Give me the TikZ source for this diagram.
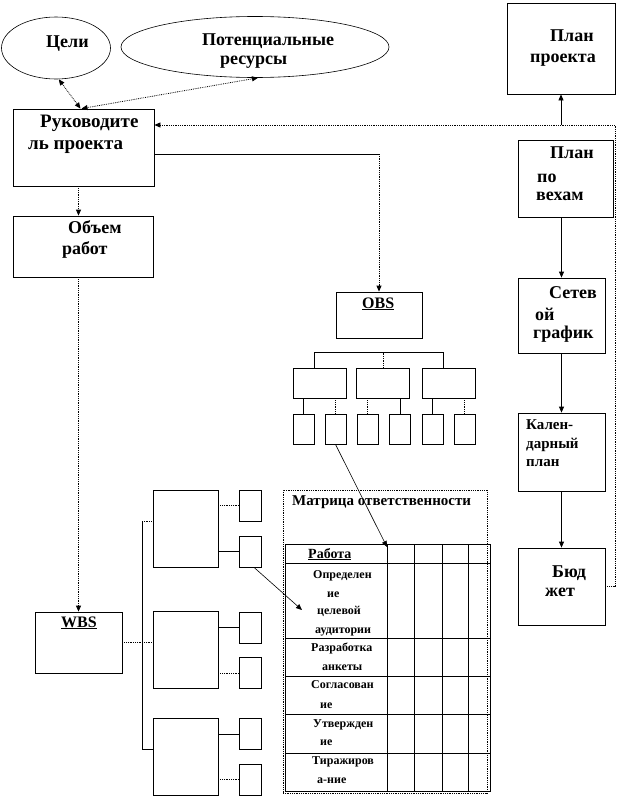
\documentclass[tikz,border=0pt]{standalone}
\usepackage{fontspec}
\setmainfont{Liberation Serif}
\usetikzlibrary{arrows.meta,positioning,shapes.geometric}

\begin{document}
\begin{tikzpicture}[
        x=1pt, y=-1pt,
        blk/.style={rectangle, draw, line width=0.8pt, inner sep=0pt},
        oval/.style={ellipse, draw, line width=0.6pt, inner sep=0pt},
        big/.style={font=\fontsize{18}{20}\selectfont\bfseries, anchor=base west, inner sep=0pt},
        bigs/.style={font=\fontsize{19}{21}\selectfont\bfseries, anchor=base west, inner sep=0pt},
        mid/.style={font=\fontsize{15}{17}\selectfont\bfseries, anchor=base west, inner sep=0pt},
        cell/.style={font=\fontsize{12}{14}\selectfont\bfseries, anchor=base west, inner sep=0pt},
        tip/.style={-{Triangle[length=6pt,width=5pt]}},
        dtip/.style={{Triangle[length=6pt,width=5pt]}-{Triangle[length=6pt,width=5pt]}},
        dot/.style={densely dotted, line width=0.8pt},
    ]
        \useasboundingbox (0,0) rectangle (618,798);

        % Goals and resources (top)
        \node[oval, minimum width=109pt, minimum height=62pt] (goals) at (56,48) {};
        \node[oval, minimum width=268pt, minimum height=61pt] (res) at (255,47) {};

        % Left column
        \node[blk, minimum width=141pt, minimum height=77pt] (ruk) at (83.5,147.5) {};
        \node[blk, minimum width=140pt, minimum height=61pt] (vol) at (83,246.5) {};
        \node[blk, minimum width=87pt, minimum height=61pt] (wbs) at (78.5,642.5) {};

        % Right column (plans)
        \node[blk, minimum width=108pt, minimum height=91pt] (plan) at (561,48.5) {};
        \node[blk, minimum width=95pt, minimum height=77pt] (veh) at (565.5,178.5) {};
        \node[blk, minimum width=87pt, minimum height=75pt] (net) at (561.5,315.5) {};
        \node[blk, minimum width=87pt, minimum height=78pt] (cal) at (561.5,452) {};
        \node[blk, minimum width=87pt, minimum height=77pt] (bud) at (561.5,586.5) {};

        % Box texts
        \foreach \x/\y/\t [count=\i] in {46/47/Цели, 202/45/Потенциальные, 220/64/ресурсы,
                68/233/Объем, 62/254/работ,
                550/41/План, 530/62/проекта, 550/158/План, 537/182/по, 536/200/вехам,
                549/298/Сетев, 535/320/ой, 533/338/график, 552/577/Бюд, 545/596/жет}
            \node[big] (txt\i) at (\x,\y) {\t};
        \node[bigs] (ruktxt1) at (40,127) {Руководите};
        \node[bigs] (ruktxt2) at (28,149) {ль проекта};
        \foreach \y/\t [count=\i] in {429/Кален-, 448/дарный, 466/план}
            \node[mid] (caltxt\i) at (526,\y) {\t};

        % OBS tree
        \node[blk, minimum width=86pt, minimum height=46pt] (obs) at (379,315) {};
        \node[font=\fontsize{16}{18}\selectfont\bfseries, anchor=base west, inner sep=0pt] (obstxt) at (362,308) {\underline{OBS}};
        \foreach \n/\x in {a/319.5, b/383, c/448.5}
            \node[blk, minimum width=53pt, minimum height=30pt] (obs\n) at (\x,383) {};
        \foreach \n/\x in {1/303.5, 2/335.5, 3/367.5, 4/400, 5/432.5, 6/464.5}
            \node[blk, minimum width=21pt, minimum height=30pt] (ob\n) at (\x,429) {};
        \draw[line width=0.8pt] ([xshift=-5.5pt]obsa.north) -- ++(0,-15) -| ([xshift=-5.5pt]obsc.north);
        \draw[dot] (obsb.north) -- ++(0,-15);
        \draw[line width=0.8pt] (obsa.south -| ob1.north) -- (ob1.north);
        \draw[dot] (obsa.south -| ob2.north) -- (ob2.north);
        \draw[dot] (obsb.south -| ob3.north) -- (ob3.north);
        \draw[line width=0.8pt] (obsb.south -| ob4.north) -- (ob4.north);
        \draw[line width=0.8pt] (obsc.south -| ob5.north) -- (ob5.north);
        \draw[dot] (obsc.south -| ob6.north) -- (ob6.north);

        % WBS tree
        \node[font=\fontsize{16}{18}\selectfont\bfseries, anchor=base west, inner sep=0pt] (wbstxt) at (61,627) {\underline{WBS}};
        \foreach \n/\y in {1/528.5, 2/650, 3/757}
            \node[blk, minimum width=65pt, minimum height=77pt] (wb\n) at (185.5,\y) {};
        \foreach \n/\y in {1a/505.5, 1b/551.5, 2a/627.5, 2b/673, 3a/734, 3b/779.5}
            \node[blk, minimum width=22pt, minimum height=31pt] (ws\n) at (250,\y) {};
        \coordinate (trunkT) at (142,521);
        \coordinate (trunkB) at (142,749);
        \draw[dot] (trunkT) -- (wb1.west |- trunkT);
        \draw[line width=0.8pt] (trunkT) -- (trunkB) -- (wb3.west |- trunkB);
        \draw[dot] (wbs.east) -- (wb2.west |- wbs.east);
        \draw[dot] (ws1a.west -| wb1.east) -- (ws1a.west);
        \draw[line width=0.8pt] (ws1b.west -| wb1.east) -- (ws1b.west);
        \draw[line width=0.8pt] (ws2a.west -| wb2.east) -- (ws2a.west);
        \draw[dot] (ws2b.west -| wb2.east) -- (ws2b.west);
        \draw[line width=0.8pt] (ws3a.west -| wb3.east) -- (ws3a.west);
        \draw[dot] (ws3b.west -| wb3.east) -- (ws3b.west);

        % Responsibility matrix
        \node[draw, dot, inner sep=0pt, minimum width=204pt, minimum height=303pt] (mtx) at (385,641.5) {};
        \node[mid] (mtxtxt) at (292,505) {Матрица ответственности};
        \draw[line width=0.8pt] (285,544) rectangle (490,791);
        \foreach \y in {563, 638, 676, 714, 753}
            \draw[line width=0.8pt] (285,\y) -- (490,\y);
        \foreach \x in {387, 414, 442, 468}
            \draw[line width=0.8pt] (\x,544) -- (\x,791);
        \node[font=\fontsize{14}{16}\selectfont\bfseries, anchor=base west, inner sep=0pt] (worktxt) at (308,558) {\underline{Работа}};
        \foreach \x/\y/\t [count=\i] in {313/578/Определен, 327/597/ие, 317/614/целевой, 315/633/аудитории,
                311/651/Разработка, 322/670/анкеты, 311/688/Согласован, 320/708/ие,
                313/727/Утвержден, 320/745/ие, 312/764/Тиражиров, 317/783/а-ние}
            \node[cell] (row\i) at (\x,\y) {\t};

        % Connectors
        \draw[dot, dtip] (goals.-85) -- ([xshift=-3pt]ruk.north);
        \draw[dot, dtip] ([xshift=3pt]res.south) -- ([xshift=-2pt]ruk.north);
        \draw[dot, tip] ([xshift=-5pt]ruk.south) -- ([xshift=-5pt]ruk.south |- vol.north);
        \draw[dot, tip] (vol.south -| wbs.north) -- (wbs.north);
        \draw[line width=0.8pt] ([yshift=-6.5pt]ruk.east) -- ([yshift=-6.5pt]ruk.east -| obs.north) coordinate (obsbend);
        \draw[dot, tip] (obsbend) -- (obs.north);

        \coordinate (fbtop) at (615,125);
        \draw[dot, tip] (bud.east) -| (fbtop) -- (fbtop -| ruk.east);
        \draw[line width=0.8pt, tip] (fbtop -| plan.south) -- (plan.south);
        \draw[line width=0.8pt, tip] (veh.south -| net.north) -- (net.north);
        \draw[line width=0.8pt, tip] (net.south) -- (cal.north);
        \draw[line width=0.8pt, tip] (cal.south) -- (bud.north);

        \coordinate (hdr) at (387,547);
        \coordinate (aud) at (302,610);
        \draw[line width=0.6pt, tip] (ob2.south) -- (hdr);
        \draw[line width=0.6pt, tip] ([xshift=4pt]ws1b.south) -- (aud);
    \end{tikzpicture}
\end{document}
